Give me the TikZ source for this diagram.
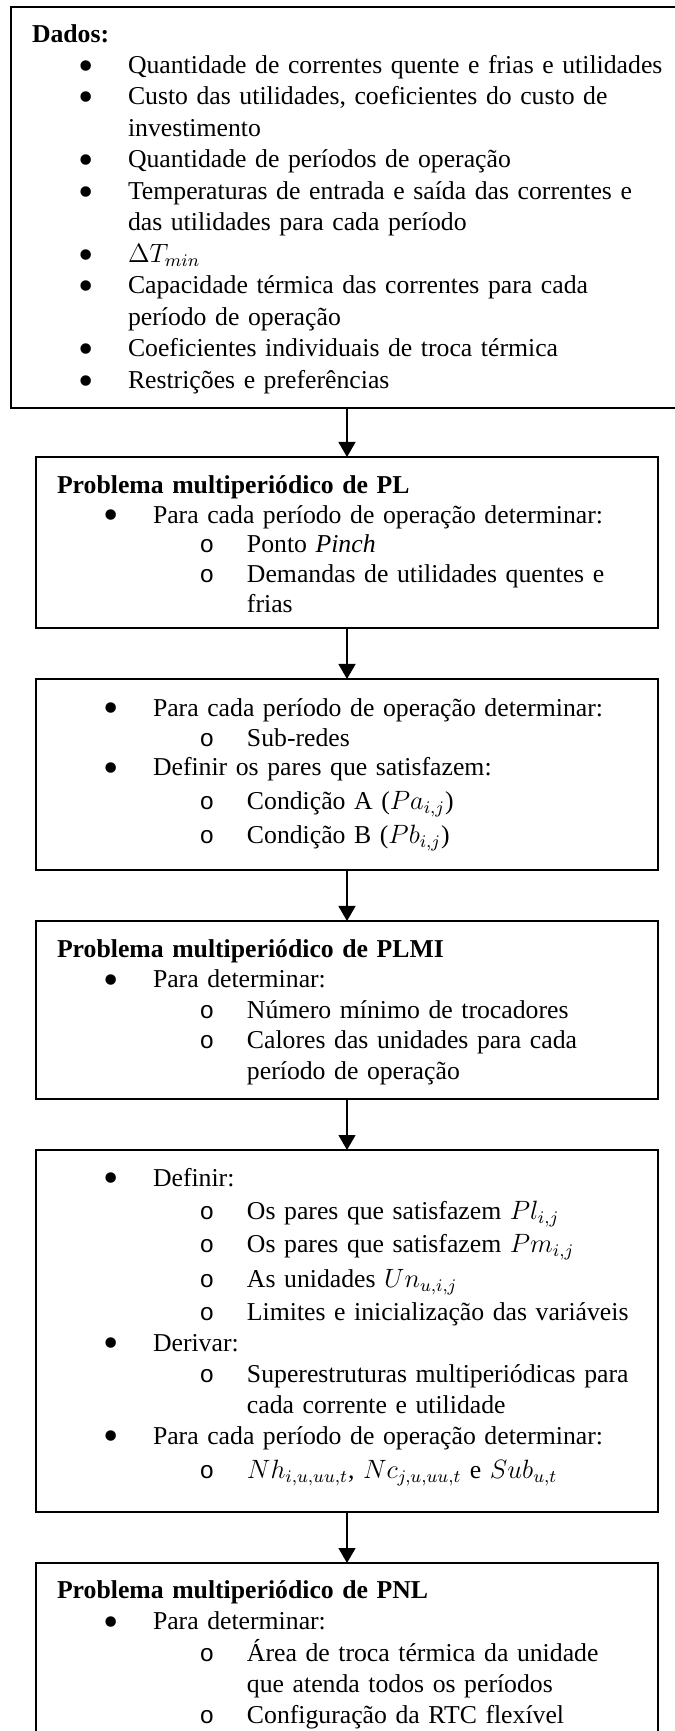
\documentclass[tikz,border=0pt]{standalone}
\usepackage{fontspec}
\setmainfont{Liberation Serif}
\newfontfamily\circfont{Liberation Mono}
\usetikzlibrary{arrows.meta}

\def\pxu{0.4528pt}
\newcommand{\bul}{\raisebox{-3pt}{\scalebox{1.7}{\textbullet}}}
\newcommand{\subbul}{{\circfont\fontsize{11pt}{11pt}\selectfont o}}
\newcommand{\itemA}[1]{\mbox{\makebox[43.47pt][l]{\hspace*{24.45pt}\makebox[0pt]{\bul}}#1}}
\newcommand{\itemB}[1]{\mbox{\makebox[86.03pt][l]{\hspace*{67.92pt}\makebox[0pt]{\subbul}}#1}}
\newcommand{\contA}[1]{\mbox{\hspace*{43.47pt}#1}}
\newcommand{\contB}[1]{\mbox{\hspace*{86.03pt}#1}}

\tikzset{
  stage/.style={draw, line width=0.8pt, anchor=north west, align=left,
    inner xsep=21*\pxu, inner ysep=0pt, outer sep=0pt},
  linesk/.style={font=\fontsize{11.65pt}{#1}\selectfont},
  flow/.style={-{Triangle[width=7.7pt,length=6.8pt]}, line width=0.6pt},
}

\begin{document}
\begin{tikzpicture}[x=\pxu, y=-\pxu]
  \useasboundingbox (0,0) rectangle (675,1731);
  \clip (0,0) rectangle (675,1731);

  % dados de entrada
  \node[stage, linesk=14.26pt, text width=640*\pxu, text height=35*\pxu,
        text depth=366*\pxu] (dados) at (11,7) {%
    \textbf{Dados:}\\
    \itemA{Quantidade de correntes quente e frias e utilidades}\\
    \itemA{Custo das utilidades, coeficientes do custo de}\\
    \contA{investimento}\\
    \itemA{Quantidade de períodos de operação}\\
    \itemA{Temperaturas de entrada e saída das correntes e}\\
    \contA{das utilidades para cada período}\\
    \itemA{$\Delta T_{min}$}\\
    \itemA{Capacidade térmica das correntes para cada}\\
    \contA{período de operação}\\
    \itemA{Coeficientes individuais de troca térmica}\\
    \itemA{Restrições e preferências}};

  % PL
  \node[stage, linesk=13.58pt, text width=580*\pxu, text height=36*\pxu,
        text depth=135*\pxu] (pl) at (36,457) {%
    \textbf{Problema multiperiódico de PL}\\
    \itemA{Para cada período de operação determinar:}\\
    \itemB{Ponto \textit{Pinch}}\\
    \itemB{Demandas de utilidades quentes e}\\
    \contB{frias}};

  % sub-redes e pares
  \node[stage, linesk=13.58pt, text width=580*\pxu, text height=37*\pxu,
        text depth=154*\pxu] (redes) at (36,679) {%
    \itemA{Para cada período de operação determinar:}\\
    \itemB{Sub-redes}\\
    \itemA{Definir os pares que satisfazem:}\\[1.81pt]
    \itemB{Condição A ($Pa_{i,j}$)}\\[1.81pt]
    \itemB{Condição B ($Pb_{i,j}$)}};

  % PLMI
  \node[stage, linesk=13.81pt, text width=580*\pxu, text height=36*\pxu,
        text depth=142*\pxu] (plmi) at (36,921) {%
    \textbf{Problema multiperiódico de PLMI}\\
    \itemA{Para determinar:}\\
    \itemB{Número mínimo de trocadores}\\
    \itemB{Calores das unidades para cada}\\
    \contB{período de operação}};

  % superestruturas
  \node[stage, linesk=14.04pt, text width=580*\pxu, text height=36*\pxu,
        text depth=326*\pxu] (super) at (36,1150) {%
    \itemA{Definir:}\\[0.91pt]
    \itemB{Os pares que satisfazem $Pl_{i,j}$}\\[0.91pt]
    \itemB{Os pares que satisfazem $Pm_{i,j}$}\\[1.81pt]
    \itemB{As unidades $Un_{u,i,j}$}\\[0.91pt]
    \itemB{Limites e inicialização das variáveis}\\
    \itemA{Derivar:}\\
    \itemB{Superestruturas multiperiódicas para}\\
    \contB{cada corrente e utilidade}\\
    \itemA{Para cada período de operação determinar:}\\[1.36pt]
    \itemB{$Nh_{i,u,uu,t}$, $Nc_{j,u,uu,t}$ e $Sub_{u,t}$}};

  % PNL
  \node[stage, linesk=14.26pt, text width=580*\pxu, text height=35*\pxu,
        text depth=220*\pxu] (pnl) at (36,1563) {%
    \textbf{Problema multiperiódico de PNL}\\
    \itemA{Para determinar:}\\
    \itemB{Área de troca térmica da unidade}\\
    \contB{que atenda todos os períodos}\\
    \itemB{Configuração da RTC flexível}};

  \draw[flow] (dados.south -| pl.north) -- (pl.north);
  \draw[flow] (pl.south) -- (redes.north);
  \draw[flow] (redes.south) -- (plmi.north);
  \draw[flow] (plmi.south) -- (super.north);
  \draw[flow] (super.south) -- (pnl.north);
\end{tikzpicture}
\end{document}
